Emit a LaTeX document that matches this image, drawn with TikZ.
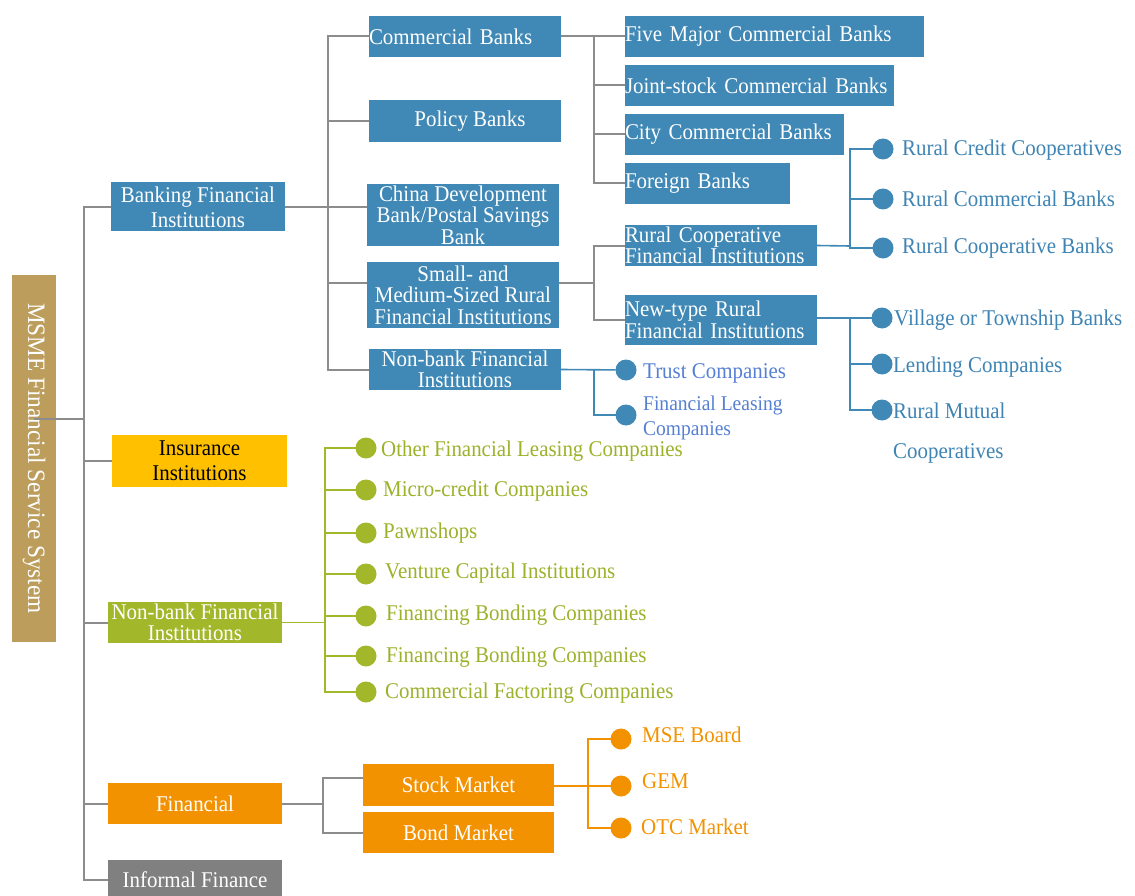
\documentclass[tikz,border=0pt]{standalone}
\usepackage{fontspec}
\setmainfont{Liberation Serif}[FakeStretch=0.93]
\definecolor{cblue}{HTML}{4088B5}
\definecolor{ctan}{HTML}{BC9D5B}
\definecolor{cgold}{HTML}{FFC000}
\definecolor{cgreen}{HTML}{A3B72B}
\definecolor{corange}{HTML}{F39200}
\definecolor{cgray}{HTML}{808080}
\definecolor{cline}{HTML}{8C8C8C}
\definecolor{ctblue}{HTML}{3E84B4}
\definecolor{clblue}{HTML}{5580D4}
\definecolor{ctgreen}{HTML}{9CB22B}
\newcommand\myfs{\fontsize{22.5}{21.5}\selectfont}
\tikzset{
  box/.style={rectangle, inner sep=0pt, outer sep=0pt, text=white, font=\myfs, align=center},
  boxl/.style={box, fill=cblue, align=left, minimum height=41},
  dot/.style={circle, inner sep=0pt, outer sep=0pt, minimum size=21},
  lab/.style={anchor=west, inner sep=0pt, font=\myfs, align=left},
  gl/.style={draw=cline, line width=2pt},
  bl/.style={draw=cblue, line width=1.6pt},
  grl/.style={draw=cgreen, line width=1.6pt},
  ol/.style={draw=corange, line width=2.4pt}
}
\begin{document}
\begin{tikzpicture}[x=1pt,y=-1pt]
\useasboundingbox[fill=white] (0,0) rectangle (1135,896);
% root
\node[box, fill=ctan, rotate=-90, minimum width=367, minimum height=44, font=\fontsize{25}{26}\selectfont] (root) at (34,458.5) {MSME Financial Service System};
% level 1
\node[box, fill=cblue, minimum width=174, minimum height=49, font=\fontsize{22.5}{25}\selectfont] (bank) at (198,207) {Banking Financial\\Institutions};
\node[box, fill=cgold, text=black, minimum width=175, minimum height=52, font=\fontsize{22.5}{25}\selectfont] (insur) at (199.5,461) {Insurance\\Institutions};
\node[box, fill=cgreen, minimum width=174, minimum height=41] (nbg) at (195,622.5) {Non-bank Financial\\Institutions};
\node[box, fill=corange, minimum width=174, minimum height=41] (fin) at (195,803.5) {Financial};
\node[box, fill=cgray, minimum width=174, minimum height=41] (inf) at (195,880) {Informal Finance};
% level 2 (banking)
\node[boxl, minimum width=192, text width=192] (comm) at (465,36.5) {Commercial Banks};
\node[box, fill=cblue, minimum width=192, minimum height=42] (policy) at (465,121) {\hspace*{10pt}Policy Banks};
\node[box, fill=cblue, minimum width=192, minimum height=62] (china) at (463,215) {China Development\\Bank/Postal Savings\\Bank};
\node[box, fill=cblue, minimum width=192, minimum height=66] (small) at (463,295) {Small- and\\Medium-Sized Rural\\Financial Institutions};
\node[box, fill=cblue, minimum width=192, minimum height=41] (nbb) at (465,369.5) {Non-bank Financial\\Institutions};
% level 3
\node[boxl, minimum width=299, text width=299] (five) at (774.5,36.5) {Five Major Commercial Banks};
\node[boxl, minimum width=269, text width=269] (joint) at (759.5,85.5) {Joint-stock Commercial Banks};
\node[boxl, minimum width=219, text width=219] (city) at (734.5,134.5) {City Commercial Banks};
\node[boxl, minimum width=165, text width=165] (foreign) at (707.5,183.5) {Foreign Banks};
\node[boxl, minimum width=192, text width=192] (rcoop) at (721,245.5) {Rural Cooperative\\Financial Institutions};
\node[boxl, minimum width=192, text width=192, minimum height=50] (newt) at (721,320) {New-type Rural\\Financial Institutions};
% rural cooperative children
\node[dot, fill=cblue] (r1) at (883,149) {};
\node[dot, fill=cblue] (r2) at (883,199) {};
\node[dot, fill=cblue] (r3) at (883,248) {};
\node[lab, text=ctblue] (r1t) at (902,150) {Rural Credit Cooperatives};
\node[lab, text=ctblue] (r2t) at (902,199) {Rural Commercial Banks};
\node[lab, text=ctblue] (r3t) at (902,248) {Rural Cooperative Banks};
% new-type children
\node[dot, fill=cblue] (v1) at (882,318) {};
\node[dot, fill=cblue] (v2) at (882,364) {};
\node[dot, fill=cblue] (v3) at (882,410) {};
\node[lab, text=ctblue] (v1t) at (894,320) {Village or Township Banks};
\node[lab, text=ctblue] (v2t) at (893,367) {Lending Companies};
\node[lab, text=ctblue, font=\fontsize{22.5}{40}\selectfont] (v3t) at (893,433) {Rural Mutual\\Cooperatives};
% non-bank (banking) children
\node[dot, fill=cblue] (tc) at (626,370) {};
\node[dot, fill=cblue] (fl) at (626,415) {};
\node[lab, text=clblue] (tct) at (643,373) {Trust Companies};
\node[lab, text=clblue, font=\fontsize{21}{25}\selectfont] (flt) at (643,418) {Financial Leasing\\Companies};
% green children
\node[dot, fill=cgreen] (g1) at (366,448) {};
\node[dot, fill=cgreen] (g2) at (366,490) {};
\node[dot, fill=cgreen] (g3) at (366,533) {};
\node[dot, fill=cgreen] (g4) at (366,574) {};
\node[dot, fill=cgreen] (g5) at (366,616) {};
\node[dot, fill=cgreen] (g6) at (366,656) {};
\node[dot, fill=cgreen] (g7) at (366,692) {};
\node[lab, text=ctgreen] (g1t) at (381,451) {Other Financial Leasing Companies};
\node[lab, text=ctgreen] (g2t) at (383,491) {Micro-credit Companies};
\node[lab, text=ctgreen] (g3t) at (383,533) {Pawnshops};
\node[lab, text=ctgreen] (g4t) at (385,573) {Venture Capital Institutions};
\node[lab, text=ctgreen] (g5t) at (386,615) {Financing Bonding Companies};
\node[lab, text=ctgreen] (g6t) at (386,657) {Financing Bonding Companies};
\node[lab, text=ctgreen] (g7t) at (385,693) {Commercial Factoring Companies};
% financial children
\node[box, fill=corange, minimum width=191, minimum height=42] (stock) at (458.5,785) {Stock Market};
\node[box, fill=corange, minimum width=191, minimum height=41] (bond) at (458.5,832.5) {Bond Market};
\node[dot, fill=corange] (o1) at (621,739) {};
\node[dot, fill=corange] (o2) at (621,786) {};
\node[dot, fill=corange] (o3) at (621,828) {};
\node[lab, text=corange] (o1t) at (642,735) {MSE Board};
\node[lab, text=corange] (o2t) at (642,781) {GEM};
\node[lab, text=corange] (o3t) at (641,827) {OTC Market};
% ---- connectors
\coordinate (T) at (84,419);
\draw[gl] (root.east |- T) -- (T);
\draw[gl] (bank.west) -| (T) |- (inf.west);
\draw[gl] (T |- insur.west) -- (insur.west);
\draw[gl] (T |- nbg.west) -- (nbg.west);
\draw[gl] (T |- fin.west) -- (fin.west);
% banking
\coordinate (B) at (328,207);
\draw[gl] (bank.east) -- (bank.east -| china.west);
\draw[gl] (comm.west) -| (B) |- (nbb.west);
\draw[gl] (B |- policy.west) -- (policy.west);
\coordinate (Bs) at (328,283);
\draw[gl] (Bs) -- (Bs -| small.west);
% commercial
\coordinate (C) at (594,36.5);
\draw[gl] (comm.east) -- (five.west);
\draw[gl] (C) |- (foreign.west);
\draw[gl] (C |- joint.west) -- (joint.west);
\draw[gl] (C |- city.west) -- (city.west);
% small and medium
\coordinate (S) at (594,283);
\draw[gl] (small.east |- S) -- (S);
\draw[gl] (rcoop.west) -| (S) |- (newt.west);
% rural cooperative
\coordinate (R) at (850,246);
\draw[bl] (rcoop.east) -- (R);
\draw[bl] (r1) -| (R) |- (r3);
\draw[bl] (R |- r2) -- (r2);
% new-type
\draw[bl] (newt.east |- v1) -- (v1);
\draw[bl] (v1 -| R) |- (v3);
\draw[bl] (R |- v2) -- (v2);
% non-bank (banking)
\draw[bl] (nbb.east) -- (tc);
\draw[bl] (nbb.east -| S) |- (fl);
% green
\coordinate (G) at (325,622.5);
\draw[grl] (nbg.east) -- (G);
\draw[grl] (g1) -| (G) |- (g7);
\foreach \i in {2,...,6} { \draw[grl] (G |- g\i) -- (g\i); }
% financial
\coordinate (F) at (323,803.5);
\coordinate (Fs) at (323,778);
\draw[gl] (fin.east) -- (F);
\draw[gl] (stock.west |- Fs) -- (Fs) |- (bond.west);
% stock market
\coordinate (O) at (588,786);
\draw[ol] (stock.east |- O) -- (o2);
\draw[ol] (o1) -| (O) |- (o3);
\end{tikzpicture}
\end{document}
